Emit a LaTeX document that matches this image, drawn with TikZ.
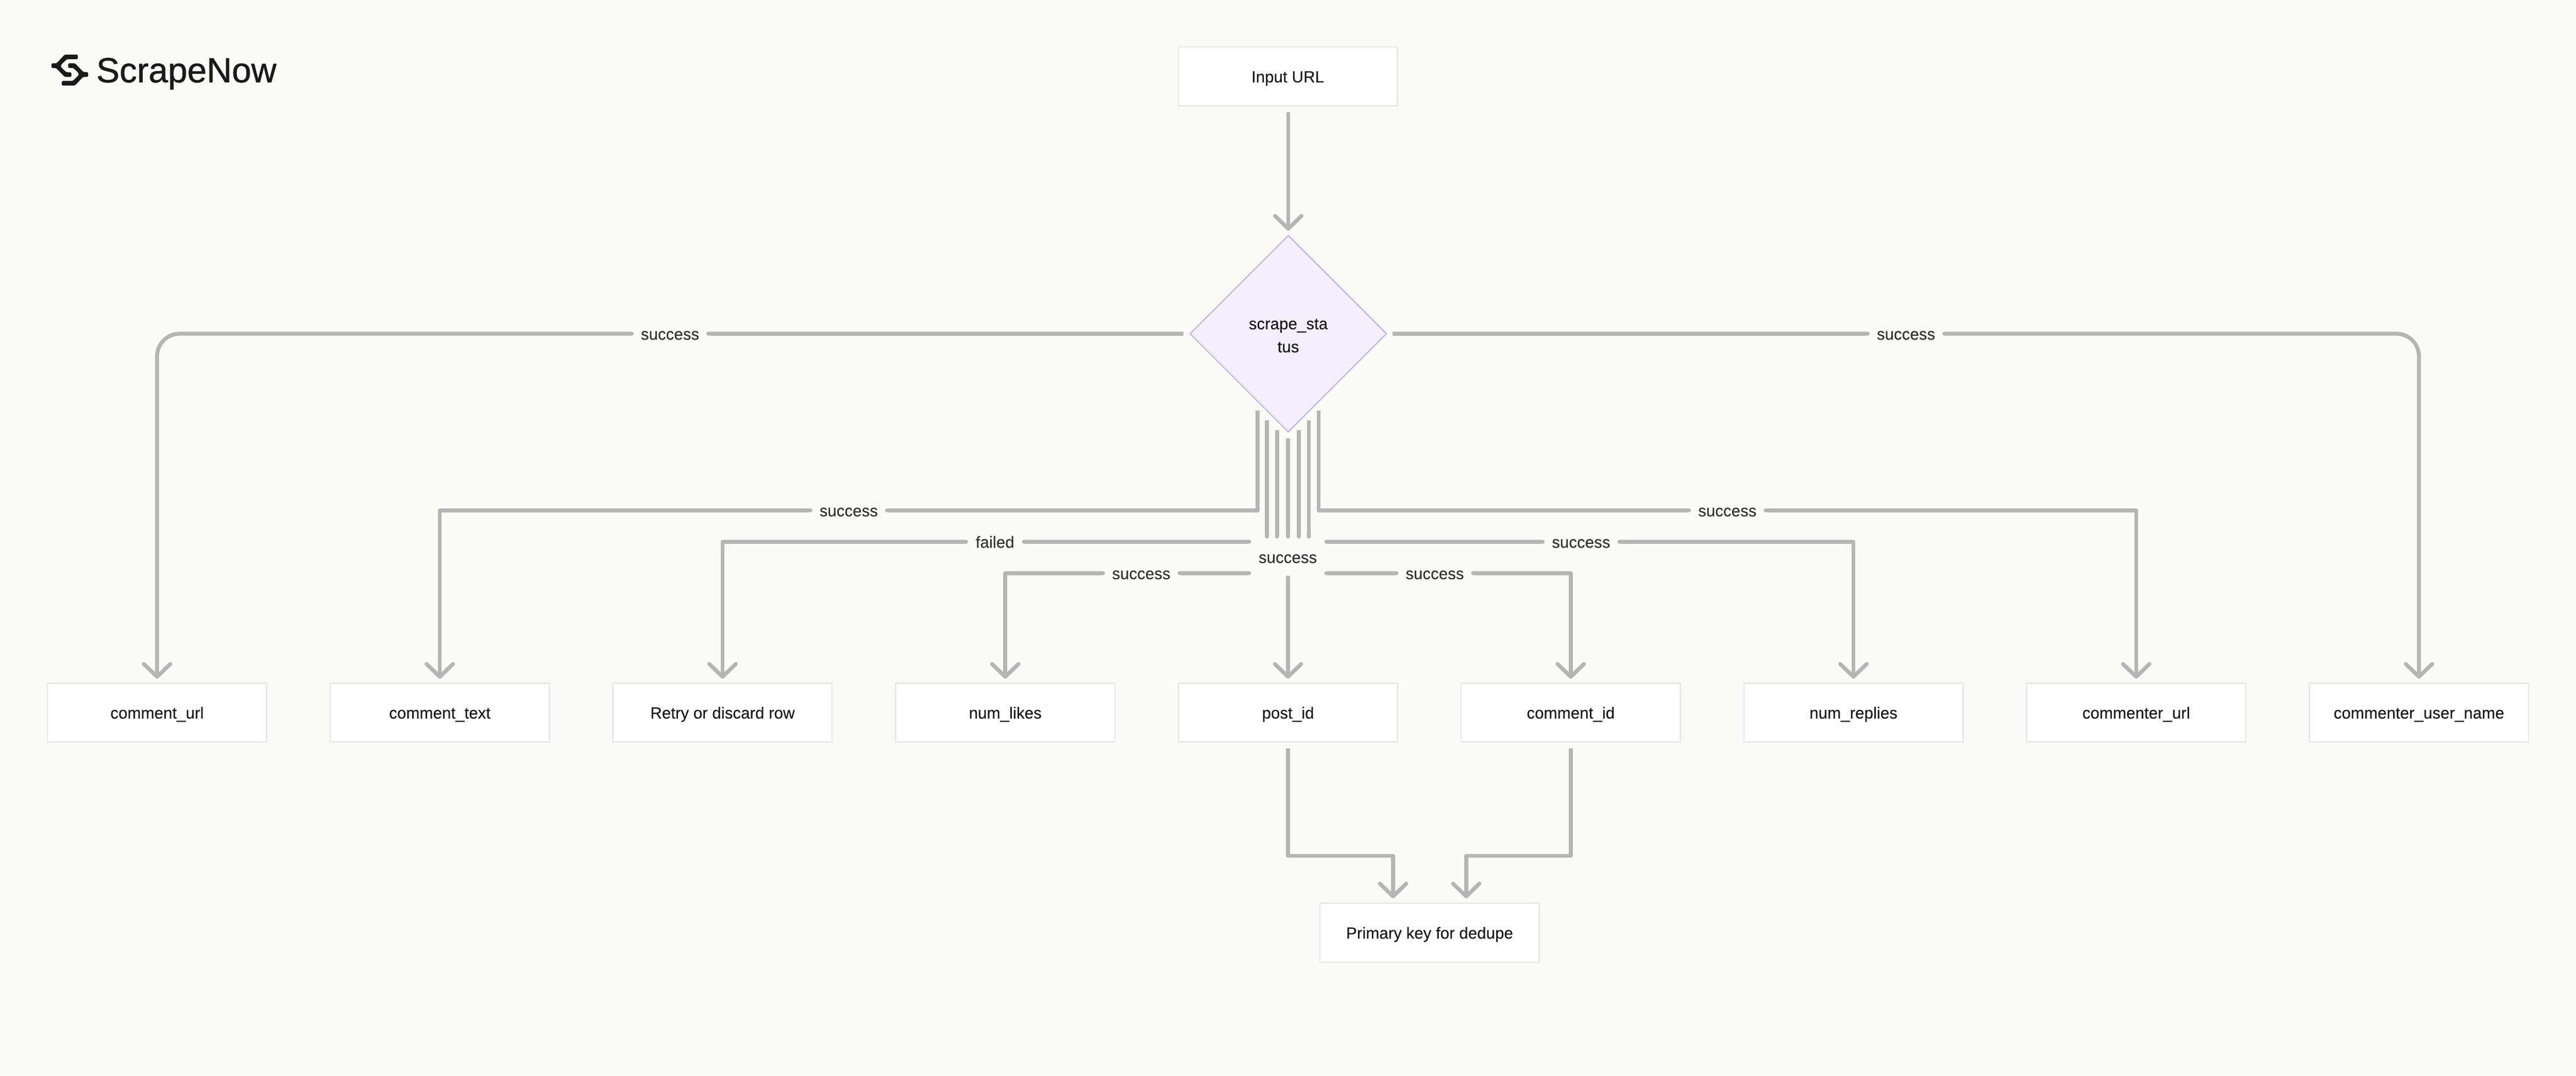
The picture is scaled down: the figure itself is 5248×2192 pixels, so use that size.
\documentclass[tikz,border=0pt]{standalone}
\usepackage{fontspec}
\setmainfont{Liberation Sans}[FakeBold=0.25]
\newfontfamily\logofont{Liberation Sans}[FakeBold=0.9]
\usetikzlibrary{shapes.geometric,arrows.meta,calc}
\definecolor{bgc}{HTML}{FAFAF8}
\definecolor{linec}{HTML}{B5B5B5}
\definecolor{boxb}{HTML}{E8E8E8}
\definecolor{diaf}{HTML}{F3EFFE}
\definecolor{diab}{HTML}{C6BBE0}
\definecolor{inkc}{HTML}{1A1A1A}
\definecolor{labc}{HTML}{333333}
\tikzset{
  boxn/.style={rectangle,draw=boxb,fill=white,line width=2.7pt,minimum width=446.5pt,minimum height=120pt,inner sep=0pt,outer sep=0pt,
    font=\fontsize{32.9}{40}\selectfont,text=inkc,text height=24.4pt,text depth=0pt},
  dian/.style={diamond,draw=diab,fill=diaf,line width=2.7pt,minimum width=400pt,minimum height=400pt,inner sep=0pt,outer sep=0pt,aspect=1,
    font=\fontsize{32.9}{47}\selectfont,text=inkc,align=center,text depth=3pt},
  labn/.style={rectangle,inner sep=0pt,outer sep=0pt,minimum height=75pt,text=labc,font=\fontsize{32.9}{40}\selectfont,text height=24.4pt,text depth=0pt},
  conn/.style={draw=linec,line width=8pt,line join=round},
  headtip/.style={-{Straight Barb[length=26pt,width=54pt,round]},shorten >=#1},
  headtip/.default=9pt,
  capend/.style={-{Round Cap}},
  capboth/.style={{Round Cap}-{Round Cap}},
  capstarthead/.style={{Round Cap}-{Straight Barb[length=26pt,width=54pt,round]},shorten >=9pt},
  bigbend/.style={rounded corners=46pt}
}
\begin{document}
\begin{tikzpicture}[x=1pt,y=-1pt]
\fill[bgc] (0,0) rectangle (5248,2192);
\useasboundingbox (0,0) rectangle (5248,2192);
% logo
\newcommand{\logopiece}{\fill[inkc,rounded corners=2pt] (158.5,111.3) -- (131.7,111.3) -- (115.2,129) -- (104.9,129) -- (104.9,138.7) -- (114.3,138.7) -- (131.7,156.7) -- (145.5,156.7) -- (145.5,147.3) -- (135.3,147.3) -- (124.1,136.7) -- (124.1,132.3) -- (136.2,120.7) -- (158.5,120.7) -- cycle;}
\logopiece
\begin{scope}[rotate around={180:(142.2,142.83)}]\logopiece\end{scope}
\node[anchor=base west,inner sep=0pt,text=inkc,font=\logofont\fontsize{71}{80}\selectfont] (logo) at (196,167.7) {ScrapeNow};
% nodes
\node[boxn] (input) at (2623.5,155.7) {Input URL};
\node[dian] (d) at (2624.5,680) {\rule{0pt}{32pt}scrape\_sta\\tus};
\node[boxn] (b1) at (320,1452) {comment\_url};
\node[boxn] (b2) at (896,1452) {comment\_text};
\node[boxn] (b3) at (1472,1452) {Retry or discard row};
\node[boxn] (b4) at (2048,1452) {num\_likes};
\node[boxn] (b5) at (2624,1452) {post\_id};
\node[boxn] (b6) at (3200,1452) {comment\_id};
\node[boxn] (b7) at (3776,1452) {num\_replies};
\node[boxn] (b8) at (4352,1452) {commenter\_url};
\node[boxn] (b9) at (4928,1452) {commenter\_user\_name};
\node[boxn] (pk) at (2912.5,1900.5) {Primary key for dedupe};
% labels
\node[labn,minimum width=148pt] (l1) at (1365,680) {success};
\node[labn,minimum width=148pt] (l9) at (3883,680) {success};
\node[labn,minimum width=148pt] (l2) at (1729,1040) {success};
\node[labn,minimum width=148pt] (l8) at (3519,1040) {success};
\node[labn,minimum width=110pt] (l3) at (2027,1104) {failed};
\node[labn,minimum width=148pt] (l7) at (3221,1104) {success};
\node[labn,minimum width=148pt] (l4) at (2325,1168) {success};
\node[labn,minimum width=148pt] (l6) at (2923,1168) {success};
\node[labn,minimum width=149pt] (l5) at (2623.5,1135) {success};
% starts below the diamond
\coordinate (s2) at (2562,836);
\coordinate (s3) at (2581,856);
\coordinate (s4) at (2601.6,876);
\coordinate (s5) at (2624,893.5);
\coordinate (s6) at (2646,876);
\coordinate (s7) at (2666.5,856);
\coordinate (s8) at (2686.5,836);
% connectors
\draw[conn,headtip=10pt,shorten <=13pt] (input.south -| d.center) -- (d.north);
\draw[conn,capend,shorten <=14pt] (d.west) -- (l1.east);
\draw[conn,capstarthead,bigbend] (l1.west) -| (b1.north);
\draw[conn,capend,shorten <=13pt] (d.east) -- (l9.west);
\draw[conn,capstarthead,bigbend] (l9.east) -| (b9.north);
\draw[conn,capend] (s2) |- (l2.east);
\draw[conn,capstarthead] (l2.west) -| (b2.north);
\draw[conn,capend] (s8) |- (l8.west);
\draw[conn,capstarthead] (l8.east) -| (b8.north);
\draw[conn,capend] (s3) -- (s3 |- l5.north);
\draw[conn,capboth] (l5.west |- l3.east) -- (l3.east);
\draw[conn,capstarthead] (l3.west) -| (b3.north);
\draw[conn,capend] (s7) -- (s7 |- l5.north);
\draw[conn,capboth] (l5.east |- l7.west) -- (l7.west);
\draw[conn,capstarthead] (l7.east) -| (b7.north);
\draw[conn,capend] (s4) -- (s4 |- l5.north);
\draw[conn,capboth] (l5.west |- l4.east) -- (l4.east);
\draw[conn,capstarthead] (l4.west) -| (b4.north);
\draw[conn,capend] (s6) -- (s6 |- l5.north);
\draw[conn,capboth] (l5.east |- l6.west) -- (l6.west);
\draw[conn,capstarthead] (l6.east) -| (b6.north);
\draw[conn,capend] (s5) -- (s5 |- l5.north);
\draw[conn,capstarthead] (l5.south -| b5.north) -- (b5.north);
\coordinate (pl) at ($(pk.north)+(-74.5,0)$);
\coordinate (pr) at ($(pk.north)+(74.5,0)$);
\coordinate (ml) at (2624,1744);
\coordinate (mr) at (3200,1744);
\draw[conn,headtip=10pt,shorten <=13.5pt] (b5.south) -- (ml) -| (pl);
\draw[conn,headtip=10pt,shorten <=13.5pt] (b6.south) -- (mr) -| (pr);
\end{tikzpicture}
\end{document}
